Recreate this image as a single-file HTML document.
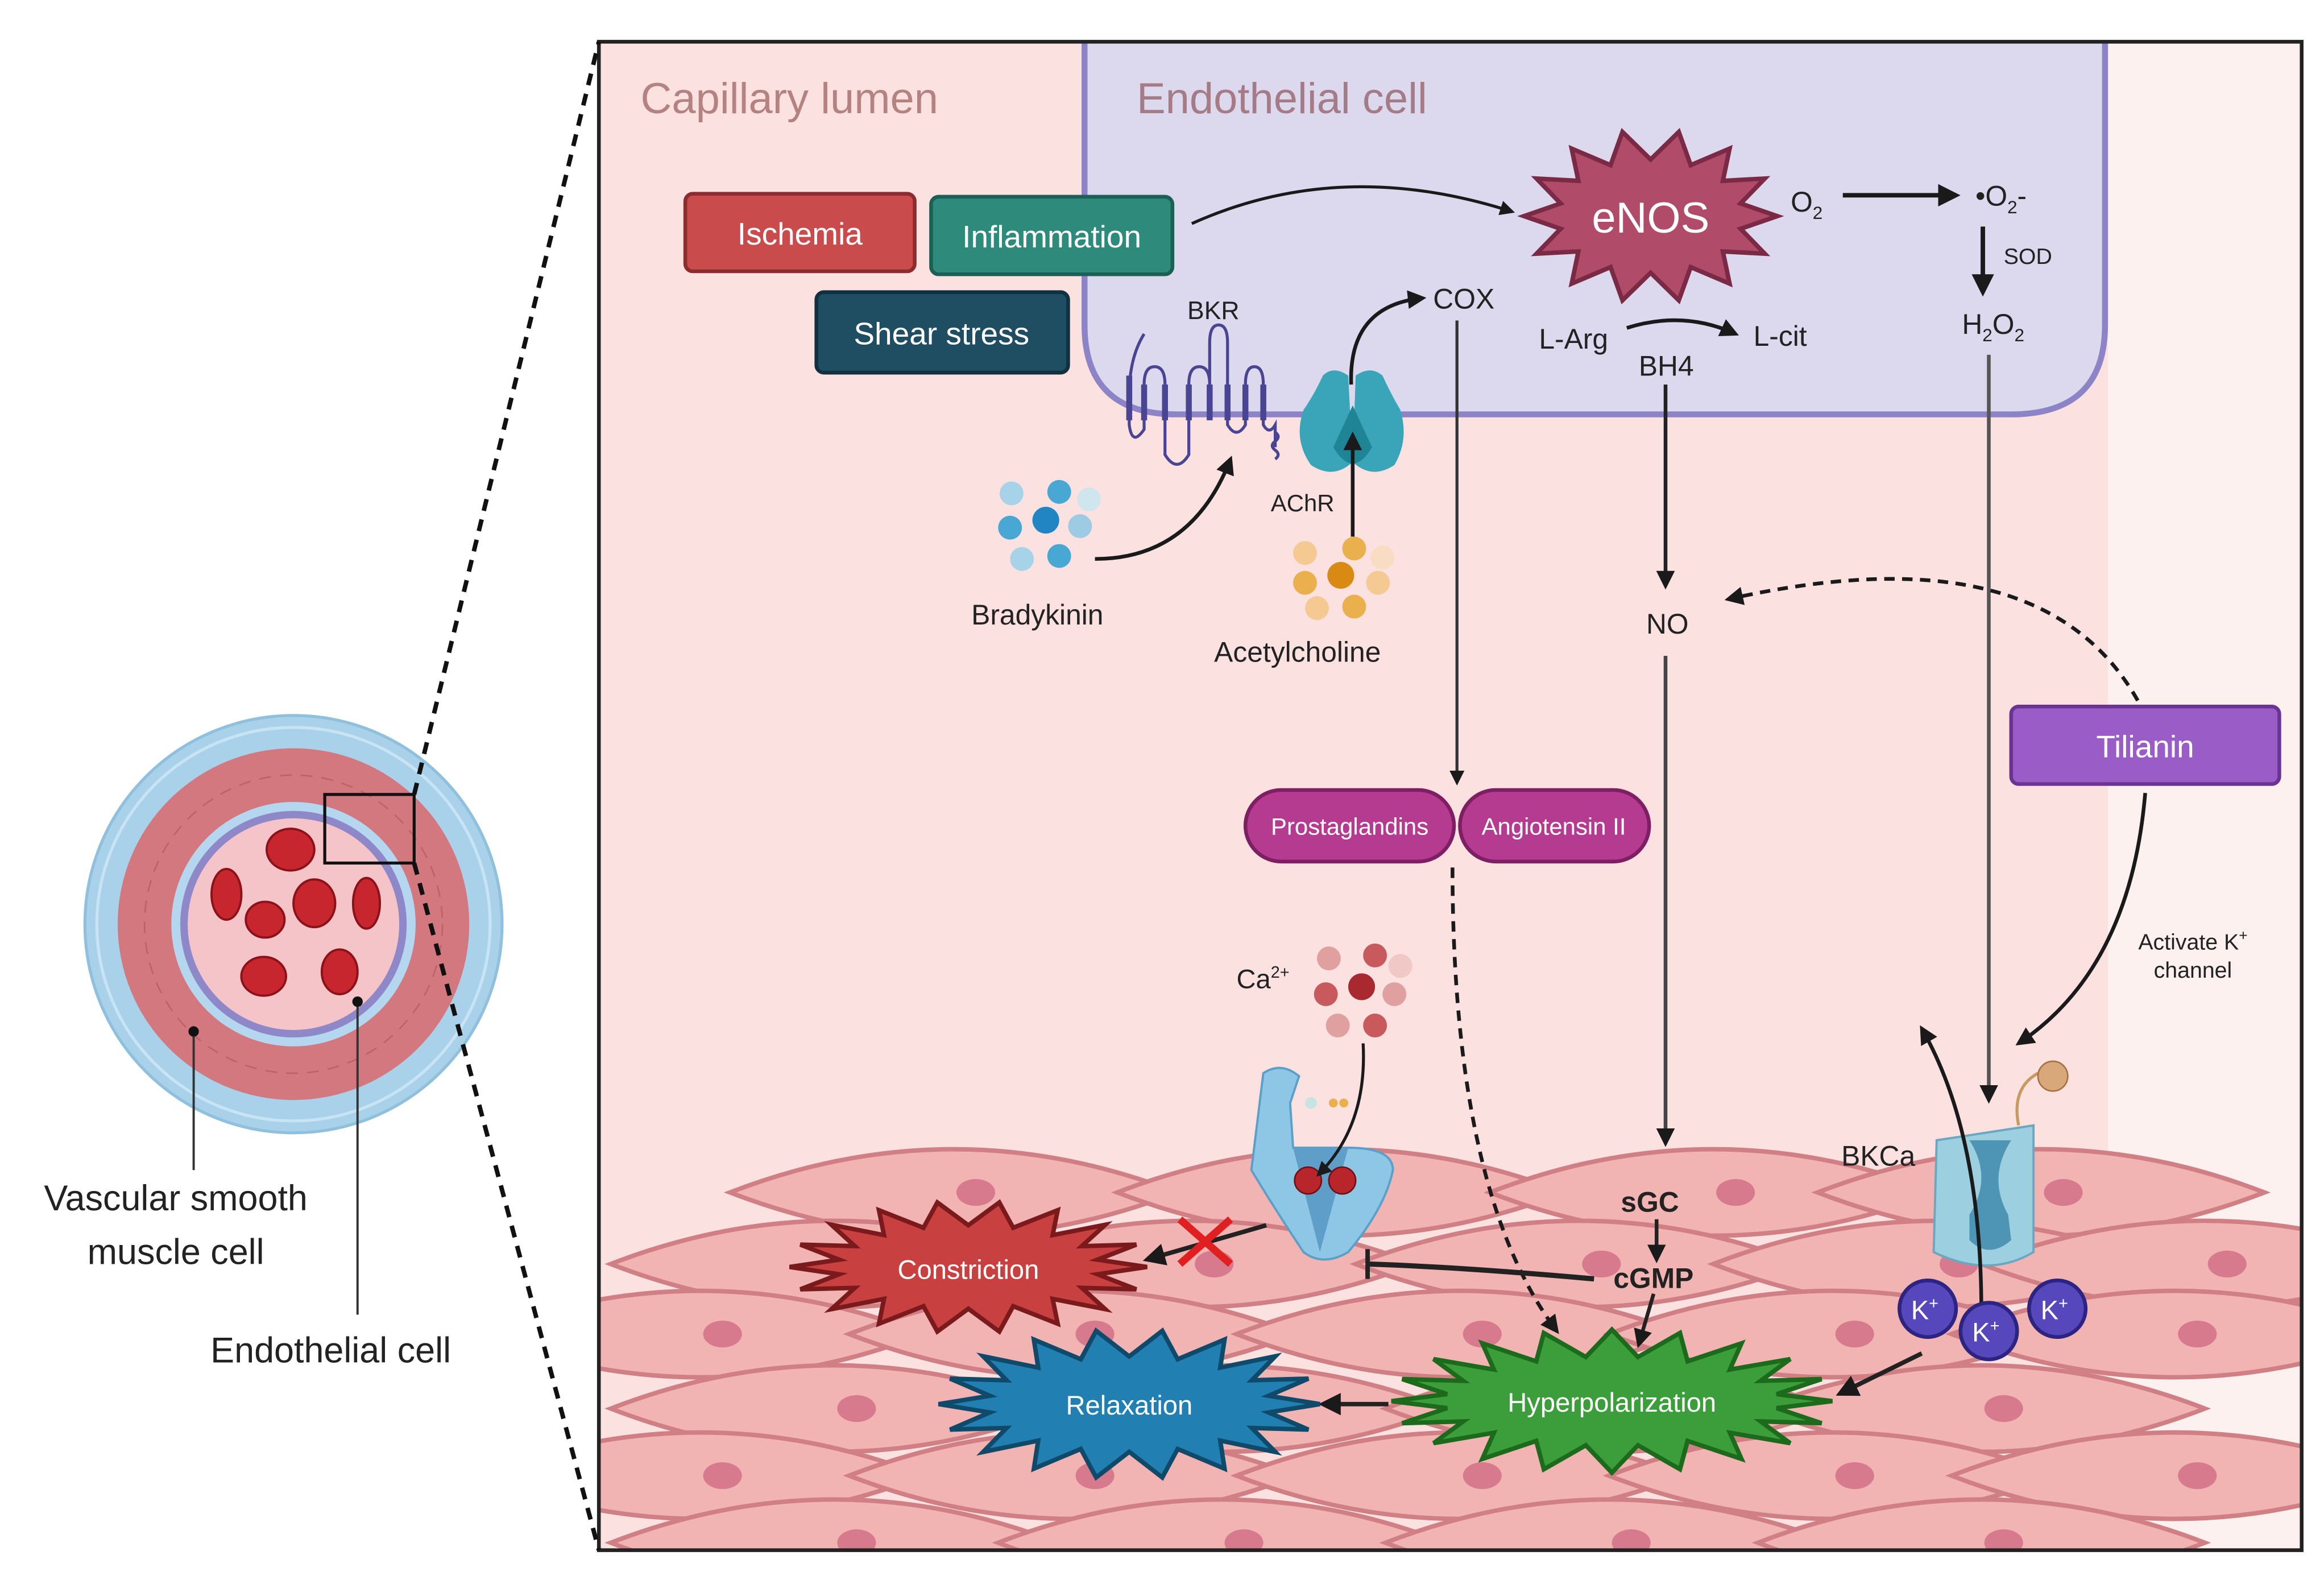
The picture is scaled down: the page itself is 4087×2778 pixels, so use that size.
<!DOCTYPE html>
<html><head><meta charset="utf-8">
<style>
html,body{margin:0;padding:0;background:#fff;}
svg{display:block;}
text{font-family:"Liberation Sans",sans-serif;}
</style></head>
<body>
<svg id="s" width="4087" height="2778" viewBox="0 0 1560 1060" preserveAspectRatio="none" xmlns="http://www.w3.org/2000/svg">
<defs>
<marker id="ah" viewBox="0 0 10 10" refX="8" refY="5" markerWidth="5" markerHeight="5" orient="auto"><path d="M0,0 L10,5 L0,10 z" fill="#1a1a1a"/></marker>
<clipPath id="frame"><rect x="402" y="28" width="1143" height="1012"/></clipPath>
</defs>
<rect width="1560" height="1060" fill="#fff"/>
<rect x="402" y="28" width="1143" height="1012" fill="#fbe2e1"/>
<rect x="1415" y="28" width="130" height="1012" fill="#fdf1ef"/>
<g clip-path="url(#frame)">
<path d="M728,20 L728,218 Q728,278 790,278 L1350,278 Q1413,278 1413,218 L1413,20" fill="#dcd9ef" stroke="#8c84c6" stroke-width="4"/>
</g>
<g id="cells" clip-path="url(#frame)"></g>
<rect x="402" y="28" width="1143" height="1012" fill="none" stroke="#222" stroke-width="2.5"/>

<text x="430" y="76" font-size="29" fill="#b58282">Capillary lumen</text>
<text x="763" y="76" font-size="29" fill="#a57c86">Endothelial cell</text>

<rect x="460" y="130" width="154" height="52" rx="5" fill="#c94b4c" stroke="#8d2c2e" stroke-width="2.5"/>
<text x="537" y="164" font-size="21" fill="#fff" text-anchor="middle">Ischemia</text>
<rect x="625" y="132" width="162" height="52" rx="5" fill="#2e8a7b" stroke="#1d5f55" stroke-width="2.5"/>
<text x="706" y="166" font-size="21" fill="#fff" text-anchor="middle">Inflammation</text>
<rect x="548" y="196" width="169" height="54" rx="5" fill="#1f4d62" stroke="#113040" stroke-width="2.5"/>
<text x="632" y="231" font-size="21" fill="#fff" text-anchor="middle">Shear stress</text>

<path d="M800,150 Q900,105 1015,142" fill="none" stroke="#1a1a1a" stroke-width="2" marker-end="url(#ah)"/>
<g id="stars"></g>
<text x="1108" y="156" font-size="29" fill="#fff" text-anchor="middle">eNOS</text>

<text x="1202" y="142" font-size="19" fill="#222">O<tspan font-size="12" dy="5">2</tspan></text>
<line x1="1237" y1="131" x2="1313" y2="131" stroke="#1a1a1a" stroke-width="3" marker-end="url(#ah)"/>
<text x="1326" y="138" font-size="19" fill="#222">•O<tspan font-size="12" dy="5">2</tspan><tspan dy="-5">-</tspan></text>
<line x1="1331" y1="152" x2="1331" y2="196" stroke="#1a1a1a" stroke-width="3" marker-end="url(#ah)"/>
<text x="1345" y="177" font-size="15" fill="#222">SOD</text>
<text x="1317" y="224" font-size="19" fill="#222">H<tspan font-size="12" dy="5">2</tspan><tspan dy="-5">O</tspan><tspan font-size="12" dy="5">2</tspan></text>

<text x="962" y="207" font-size="19" fill="#222">COX</text>
<path d="M907,258 Q905,205 955,200" fill="none" stroke="#1a1a1a" stroke-width="2.5" marker-end="url(#ah)"/>
<text x="1033" y="234" font-size="19" fill="#222">L-Arg</text>
<path d="M1092,220 Q1130,208 1165,224" fill="none" stroke="#1a1a1a" stroke-width="2.5" marker-end="url(#ah)"/>
<text x="1177" y="232" font-size="19" fill="#222">L-cit</text>
<text x="1100" y="252" font-size="19" fill="#222">BH4</text>
<text x="797" y="214" font-size="17" fill="#222">BKR</text>

<g fill="none" stroke="#4a4593" stroke-width="2">
<path d="M768,224 Q758,240 758,265 L758,285 Q760,300 768,288 L768,258 Q768,246 775,246 Q782,246 782,258 L782,305 Q790,318 798,305 L798,258 Q798,246 805,246 Q812,246 812,258 L812,270 L812,230 Q812,218 818,218 Q824,218 824,230 L824,285 Q830,295 836,285 L836,258 Q836,246 842,246 Q848,246 848,258 L848,285 Q852,292 856,285 L856,300"/>
<path d="M856,290 q4,3 0,6 q-4,3 0,6 q4,3 0,6"/>
</g>
<g stroke="#4a4593" stroke-width="4"><line x1="758" y1="252" x2="758" y2="282"/><line x1="768" y1="258" x2="768" y2="282"/><line x1="782" y1="258" x2="782" y2="282"/><line x1="798" y1="258" x2="798" y2="282"/><line x1="812" y1="258" x2="812" y2="282"/><line x1="824" y1="258" x2="824" y2="282"/><line x1="836" y1="258" x2="836" y2="282"/><line x1="848" y1="258" x2="848" y2="282"/></g>
<path d="M888,252 Q895,245 905,252 L908,310 Q895,322 880,312 Q868,295 875,275 Q882,265 888,252z" fill="#3aa5b8"/>
<path d="M928,252 Q920,245 910,252 L908,310 Q921,322 936,312 Q946,295 940,275 Q934,265 928,252z" fill="#3aa5b8"/>
<path d="M895,300 L908,272 L921,300 Q908,322 895,300z" fill="#1f8496"/>
<line x1="908" y1="360" x2="908" y2="292" stroke="#1a1a1a" stroke-width="2.5" marker-end="url(#ah)"/>
<text x="853" y="343" font-size="16" fill="#222">AChR</text>

<g><circle cx="679" cy="331" r="8" fill="#a7d3e8"/><circle cx="711" cy="330" r="8" fill="#49a7d4"/><circle cx="731" cy="335" r="8" fill="#cfe6ef"/><circle cx="678" cy="354" r="8" fill="#49a7d4"/><circle cx="702" cy="349" r="9" fill="#2185c4"/><circle cx="725" cy="353" r="8" fill="#9ccbe3"/><circle cx="686" cy="375" r="8" fill="#a7d3e8"/><circle cx="711" cy="373" r="8" fill="#49a7d4"/></g>
<path d="M735,375 Q800,375 826,308" fill="none" stroke="#1a1a1a" stroke-width="2.5" marker-end="url(#ah)"/>
<text x="652" y="419" font-size="19" fill="#222">Bradykinin</text>
<g><circle cx="876" cy="371" r="8" fill="#f4c992"/><circle cx="909" cy="368" r="8" fill="#eab04e"/><circle cx="928" cy="374" r="8" fill="#f8dcc4"/><circle cx="876" cy="391" r="8" fill="#eab04e"/><circle cx="900" cy="386" r="9" fill="#d98a12"/><circle cx="925" cy="391" r="8" fill="#f4c992"/><circle cx="884" cy="408" r="8" fill="#f4c992"/><circle cx="909" cy="407" r="8" fill="#eab04e"/></g>
<text x="815" y="444" font-size="19" fill="#222">Acetylcholine</text>

<line x1="978" y1="215" x2="978" y2="525" stroke="#333" stroke-width="2" marker-end="url(#ah)"/>
<line x1="1118" y1="258" x2="1118" y2="393" stroke="#222" stroke-width="2.5" marker-end="url(#ah)"/>
<text x="1105" y="425" font-size="19" fill="#222">NO</text>
<line x1="1118" y1="440" x2="1118" y2="767" stroke="#444" stroke-width="2.5" marker-end="url(#ah)"/>
<line x1="1335" y1="238" x2="1335" y2="738" stroke="#555" stroke-width="2.5" marker-end="url(#ah)"/>
<path d="M1435,470 Q1370,355 1160,402" fill="none" stroke="#1a1a1a" stroke-width="2.5" stroke-dasharray="7,5" marker-end="url(#ah)"/>
<rect x="1350" y="474" width="180" height="52" rx="5" fill="#9a5cc6" stroke="#6b3492" stroke-width="2.5"/>
<text x="1440" y="508" font-size="21" fill="#fff" text-anchor="middle">Tilianin</text>
<path d="M1440,532 Q1430,650 1355,700" fill="none" stroke="#1a1a1a" stroke-width="2.5" marker-end="url(#ah)"/>
<text x="1472" y="637" font-size="15" fill="#222" text-anchor="middle">Activate K<tspan font-size="10" dy="-6">+</tspan></text>
<text x="1472" y="656" font-size="15" fill="#222" text-anchor="middle">channel</text>

<rect x="836" y="530" width="140" height="48" rx="24" fill="#b43b8f" stroke="#7f1f63" stroke-width="2.5"/>
<text x="906" y="560" font-size="16" fill="#fff" text-anchor="middle">Prostaglandins</text>
<rect x="980" y="530" width="127" height="48" rx="24" fill="#b43b8f" stroke="#7f1f63" stroke-width="2.5"/>
<text x="1043" y="560" font-size="16" fill="#fff" text-anchor="middle">Angiotensin II</text>
<path d="M975,582 Q975,800 1045,893" fill="none" stroke="#1a1a1a" stroke-width="2.5" stroke-dasharray="7,5" marker-end="url(#ah)"/>

<text x="830" y="663" font-size="18" fill="#222">Ca<tspan font-size="11" dy="-7">2+</tspan></text>
<g><circle cx="892" cy="643" r="8" fill="#e0a0a0"/><circle cx="923" cy="641" r="8" fill="#c85a5e"/><circle cx="940" cy="648" r="8" fill="#f0c8c6"/><circle cx="890" cy="667" r="8" fill="#c85a5e"/><circle cx="914" cy="662" r="9" fill="#a82a30"/><circle cx="936" cy="667" r="8" fill="#e0a0a0"/><circle cx="898" cy="688" r="8" fill="#e0a0a0"/><circle cx="923" cy="688" r="8" fill="#c85a5e"/></g>

<text x="1088" y="813" font-size="19" font-weight="bold" fill="#222">sGC</text>
<text x="1083" y="864" font-size="19" font-weight="bold" fill="#222">cGMP</text>
<line x1="1112" y1="818" x2="1112" y2="845" stroke="#222" stroke-width="2.5" marker-end="url(#ah)"/>
<line x1="1110" y1="868" x2="1100" y2="902" stroke="#222" stroke-width="2.5" marker-end="url(#ah)"/>
<path d="M1070,858 Q980,850 918,848" fill="none" stroke="#222" stroke-width="3.5"/>
<line x1="918" y1="838" x2="918" y2="858" stroke="#222" stroke-width="3"/>

<path d="M848,720 Q860,712 872,722 L866,740 L868,770 L905,770 Q935,770 935,785 Q930,810 905,840 Q888,850 875,840 Q855,810 840,785 L848,720z" fill="#8ec6e6" stroke="#5aa0c8" stroke-width="1.5"/>
<path d="M868,770 L886,840 L905,770z" fill="#5e9ec8"/>
<circle cx="878" cy="792" r="9" fill="#b8262b" stroke="#701015"/><circle cx="901" cy="792" r="9" fill="#b8262b" stroke="#701015"/>
<path d="M915,700 Q918,755 885,788" fill="none" stroke="#1a1a1a" stroke-width="2" marker-end="url(#ah)"/>
<circle cx="880" cy="740" r="4" fill="#c8e4e0"/><circle cx="895" cy="740" r="3" fill="#eab04e"/><circle cx="902" cy="740" r="3" fill="#eab04e"/>
<line x1="850" y1="822" x2="770" y2="845" stroke="#222" stroke-width="3" marker-end="url(#ah)"/>
<path d="M792,818 L826,848 M826,818 L792,848" stroke="#e02020" stroke-width="5"/>

<text x="1236" y="782" font-size="19" fill="#222">BKCa</text>
<path d="M1300,765 L1365,755 L1365,840 Q1335,858 1298,840z" fill="#9ccfe0" stroke="#6aa8c2" stroke-width="1.5"/>
<path d="M1322,765 Q1338,790 1322,815 L1322,832 Q1335,845 1350,832 L1348,815 Q1334,790 1350,765z" fill="#4e95b5"/>
<path d="M1355,755 Q1350,730 1368,720" fill="none" stroke="#c89a60" stroke-width="2"/>
<circle cx="1378" cy="722" r="10" fill="#d9a87a" stroke="#a87040"/>
<path d="M1330,880 Q1330,760 1290,690" fill="none" stroke="#1a1a1a" stroke-width="2.5" marker-end="url(#ah)"/>
<g fill="#5648bc" stroke="#2c2480" stroke-width="2.5">
<circle cx="1294" cy="878" r="19"/><circle cx="1381" cy="878" r="19"/><circle cx="1335" cy="893" r="19"/></g>
<g font-size="18" fill="#fff" text-anchor="middle"><text x="1292" y="885">K<tspan font-size="11" dy="-7">+</tspan></text><text x="1379" y="885">K<tspan font-size="11" dy="-7">+</tspan></text><text x="1333" y="900">K<tspan font-size="11" dy="-7">+</tspan></text></g>
<line x1="1290" y1="908" x2="1235" y2="935" stroke="#222" stroke-width="3" marker-end="url(#ah)"/>
<line x1="932" y1="942" x2="888" y2="942" stroke="#222" stroke-width="3" marker-end="url(#ah)"/>

<text x="650" y="858" font-size="18" fill="#fff" text-anchor="middle" id="t1">Constriction</text>
<text x="758" y="949" font-size="18" fill="#fff" text-anchor="middle" id="t2">Relaxation</text>
<text x="1082" y="947" font-size="18" fill="#fff" text-anchor="middle" id="t3">Hyperpolarization</text>

<circle cx="197" cy="620" r="140" fill="#a9d2ea" stroke="#8fc0de" stroke-width="2"/>
<circle cx="197" cy="620" r="132" fill="none" stroke="#c8e4f4" stroke-width="2"/>
<circle cx="197" cy="620" r="118" fill="#d2787e"/>
<circle cx="197" cy="620" r="100" fill="none" stroke="#c0606a" stroke-width="1" stroke-dasharray="8,6"/>
<circle cx="197" cy="620" r="82" fill="#b4d6ee"/>
<circle cx="197" cy="620" r="76" fill="#8f88c8"/>
<circle cx="197" cy="620" r="71" fill="#f4c4c8"/>
<g fill="#c8262e" stroke="#8a1218" stroke-width="1.5">
<ellipse cx="195" cy="570" rx="16" ry="14"/><ellipse cx="152" cy="600" rx="10" ry="17"/><ellipse cx="178" cy="617" rx="13" ry="12"/><ellipse cx="211" cy="606" rx="14" ry="16"/><ellipse cx="246" cy="606" rx="9" ry="17"/><ellipse cx="177" cy="655" rx="15" ry="13"/><ellipse cx="228" cy="652" rx="12" ry="15"/></g>
<rect x="218" y="533" width="60" height="46" fill="none" stroke="#111" stroke-width="2"/>
<line x1="278" y1="533" x2="402" y2="28" stroke="#111" stroke-width="3" stroke-dasharray="8,6"/>
<line x1="278" y1="579" x2="402" y2="1040" stroke="#111" stroke-width="3" stroke-dasharray="8,6"/>
<line x1="130" y1="692" x2="130" y2="785" stroke="#333" stroke-width="1.5"/><circle cx="130" cy="692" r="3.5" fill="#111"/>
<line x1="240" y1="672" x2="240" y2="882" stroke="#333" stroke-width="1.5"/><circle cx="240" cy="672" r="3.5" fill="#111"/>
<text x="118" y="812" font-size="24" fill="#222" text-anchor="middle">Vascular smooth</text>
<text x="118" y="848" font-size="24" fill="#222" text-anchor="middle">muscle cell</text>
<text x="222" y="914" font-size="24" fill="#222" text-anchor="middle">Endothelial cell</text>
</svg>
<script>
(function(){
var NS="http://www.w3.org/2000/svg";
function star(cx,cy,rx,ry,ix,iy,n,fill,stroke,before){
 var p=[];for(var i=0;i<2*n;i++){var a=Math.PI*i/n;var o=i%2==0;p.push((cx+Math.cos(a)*(o?rx:ix)).toFixed(1)+","+(cy+Math.sin(a)*(o?ry:iy)).toFixed(1));}
 var e=document.createElementNS(NS,"polygon");e.setAttribute("points",p.join(" "));e.setAttribute("fill",fill);e.setAttribute("stroke",stroke);e.setAttribute("stroke-width","3");
 before.parentNode.insertBefore(e,before);}
var g=document.getElementById("stars");
var e1=document.createElementNS(NS,"g");g.appendChild(e1);
star(1108,145,85,58,62,38,14,"#b04b69","#7a2a45",e1);
star(650,850,120,44,88,28,18,"#c8403f","#7a1a1c",document.getElementById("t1"));
star(758,942,128,50,95,32,18,"#217fb2","#0f4a6a",document.getElementById("t2"));
star(1082,940,148,48,112,30,20,"#3c9e3a","#1c6a1c",document.getElementById("t3"));
var c=document.getElementById("cells");
function cell(x,y,w,h){var d="M"+(x-w)+","+y+" Q"+x+","+(y-h)+" "+(x+w)+","+y+" Q"+x+","+(y+h)+" "+(x-w)+","+y+"z";
 var e=document.createElementNS(NS,"path");e.setAttribute("d",d);e.setAttribute("fill","#f2b4b2");e.setAttribute("stroke","#d07f84");e.setAttribute("stroke-width","3");c.appendChild(e);
 var n=document.createElementNS(NS,"ellipse");n.setAttribute("cx",x+w*0.1);n.setAttribute("cy",y);n.setAttribute("rx",13);n.setAttribute("ry",9);n.setAttribute("fill","#d77a8e");c.appendChild(n);}
var rows=[[800,[640,900,1150,1370]],[848,[560,800,1060,1300,1480]],[895,[470,720,980,1230,1460]],[945,[560,820,1080,1330]],[990,[470,720,980,1230,1460]],[1035,[560,820,1080,1330]]];
rows.forEach(function(r){r[1].forEach(function(x){cell(x,r[0],150,58);});});
})();
</script>
</body></html>
